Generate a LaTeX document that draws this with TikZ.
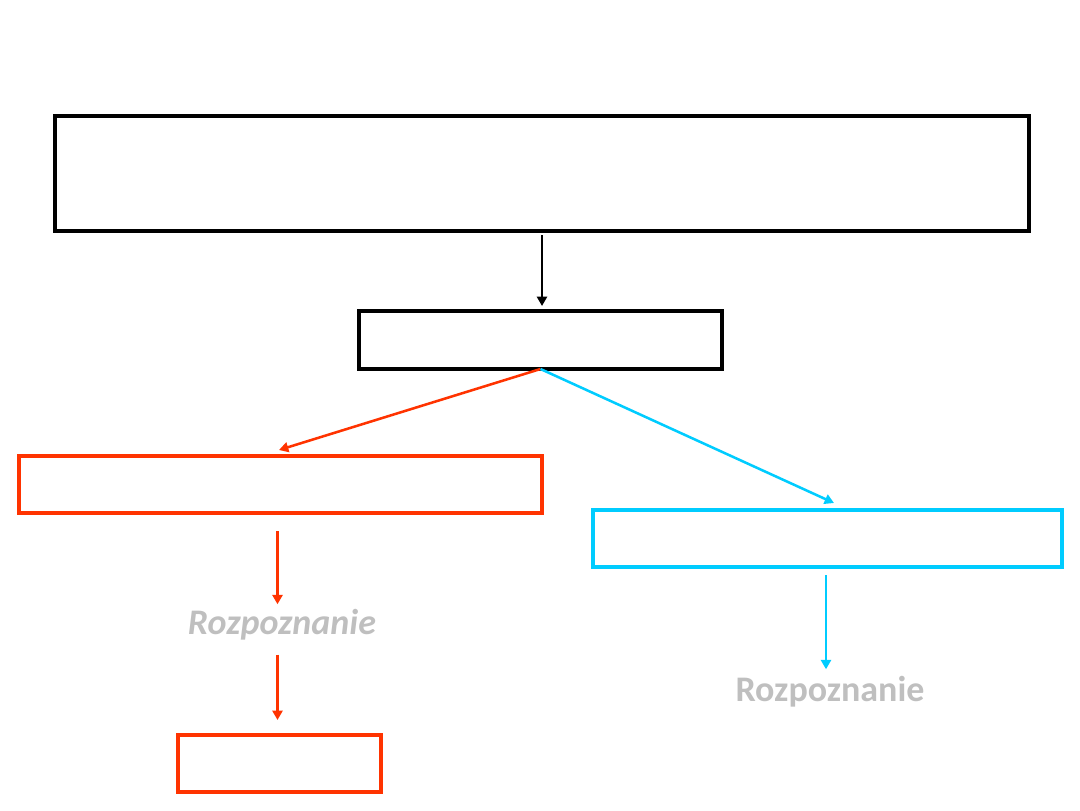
\documentclass[tikz,border=0pt]{standalone}
\usepackage{fontspec}
\newfontfamily\carlitofont{Carlito}
\usetikzlibrary{arrows.meta,calc}
\definecolor{cred}{HTML}{FF3300}
\definecolor{ccyan}{HTML}{00CCFF}
\definecolor{cgray}{HTML}{BFBFBF}
\tikzset{
  box/.style={draw=#1, line width=2.4pt, minimum height=0, inner sep=0pt, outer sep=0pt, anchor=north west},
  conn/.style={draw=#1, line width=1.9pt, -{Triangle[length=7pt,width=7.5pt]}},
  lbl/.style={text=cgray, font=\carlitofont\bfseries\fontsize{27}{30}\selectfont, inner sep=0pt}
}
\begin{document}
\begin{tikzpicture}[x=0.75pt,y=-0.75pt]
\useasboundingbox (0,0) rectangle (1080,810);
\node[box=black, minimum width=974*0.75pt, minimum height=115*0.75pt] (top) at (55,116) {};
\node[box=black, minimum width=363*0.75pt, minimum height=58*0.75pt] (mid) at (359,311) {};
\node[box=cred, minimum width=523*0.75pt, minimum height=57*0.75pt] (red) at (19,456) {};
\node[box=ccyan, minimum width=469*0.75pt, minimum height=57*0.75pt] (cy) at (593,510) {};
\node[box=cred, minimum width=203*0.75pt, minimum height=57*0.75pt] (sred) at (178,735) {};
\node[lbl, font=\carlitofont\bfseries\itshape\fontsize{27}{30}\selectfont] (r1) at (282,625) {Rozpoznanie};
\node[lbl] (r2) at (830,692) {Rozpoznanie};
\coordinate (a0) at ([shift={(0,4)}]top.south);
\coordinate (a0e) at ([shift={(0,-5)}]mid.north);
\draw[conn=black] (a0) -- (a0 |- a0e);
\draw[conn=cred] (mid.south) -- ($(red.north)+(-1.5,-6)$);
\draw[conn=ccyan] (mid.south) -- ($(cy.north)+(6.5,-7)$);
\coordinate (a1) at ([shift={(-3,18)}]red.south);
\coordinate (a1e) at ([shift={(0,-5)}]r1.north);
\draw[conn=cred] (a1) -- (a1 |- a1e);
\coordinate (a2) at ([shift={(0,14)}]r1.south -| a1);
\coordinate (a2e) at ([shift={(0,-15)}]sred.north);
\draw[conn=cred] (a2) -- (a2 |- a2e);
\coordinate (a3) at ([shift={(-1.5,8)}]cy.south);
\coordinate (a3e) at ([shift={(0,-7)}]r2.north);
\draw[conn=ccyan] (a3) -- (a3 |- a3e);
\end{tikzpicture}
\end{document}
